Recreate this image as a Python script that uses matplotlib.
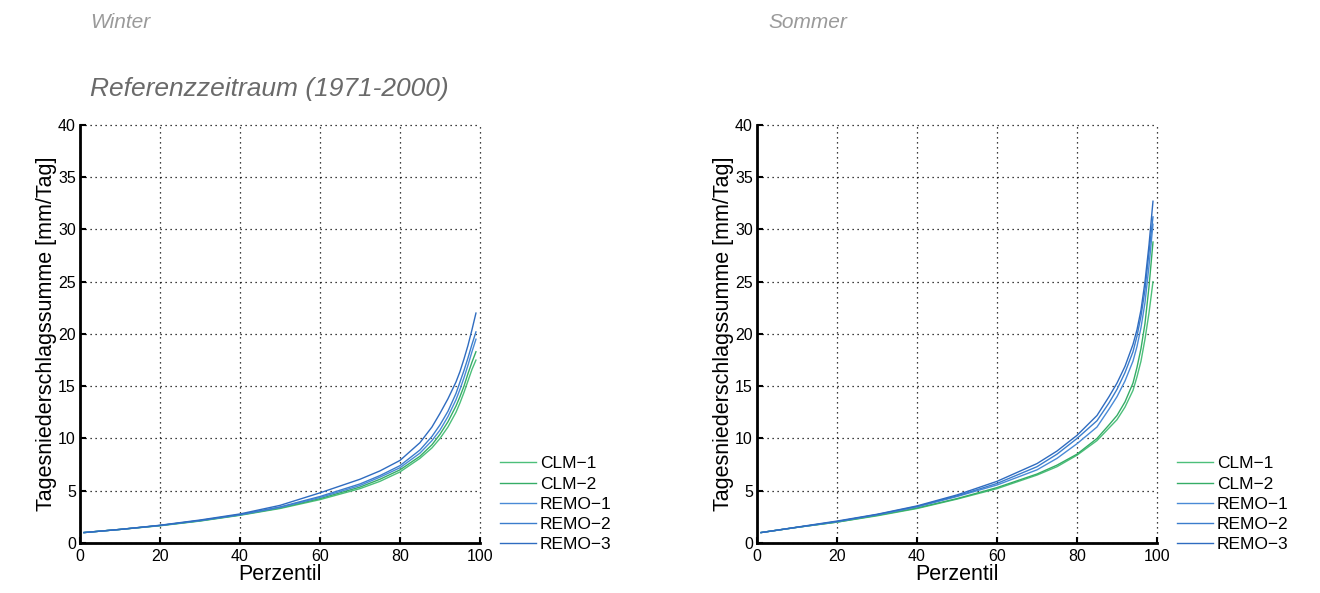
import numpy as np
import matplotlib
matplotlib.use("Agg")
import matplotlib.pyplot as plt

plt.rcParams["font.family"] = ["Liberation Sans", "DejaVu Sans"]

perc = [1, 10, 20, 30, 40, 50, 60, 70, 75, 80, 85, 88, 90, 92, 94, 95, 96, 97, 98, 99]

series_names = ["CLM\u22121", "CLM\u22122", "REMO\u22121", "REMO\u22122", "REMO\u22123"]
series_colors = ["#4cbf7a", "#35ad66", "#4a8ad6", "#3b7dcc", "#2f6cc0"]

winter = {
    "CLM-1":  [1.0, 1.3, 1.65, 2.1, 2.65, 3.3, 4.15, 5.2, 5.9, 6.8, 8.1, 9.1, 10.0, 11.1, 12.5, 13.4, 14.4, 15.5, 16.6, 17.5],
    "CLM-2":  [1.0, 1.3, 1.67, 2.12, 2.68, 3.35, 4.25, 5.35, 6.1, 7.0, 8.3, 9.4, 10.4, 11.6, 13.1, 14.0, 15.0, 16.2, 17.3, 18.3],
    "REMO-1": [1.0, 1.3, 1.68, 2.15, 2.7, 3.4, 4.35, 5.5, 6.3, 7.2, 8.6, 9.8, 10.8, 12.1, 13.7, 14.7, 15.8, 17.0, 18.3, 19.5],
    "REMO-2": [1.0, 1.3, 1.68, 2.15, 2.72, 3.45, 4.45, 5.65, 6.45, 7.4, 8.9, 10.2, 11.3, 12.6, 14.3, 15.4, 16.5, 17.7, 19.0, 20.2],
    "REMO-3": [1.0, 1.3, 1.7, 2.2, 2.78, 3.6, 4.8, 6.1, 6.9, 7.9, 9.6, 11.1, 12.4, 13.8, 15.4, 16.4, 17.6, 18.9, 20.4, 22.0],
}
summer = {
    "CLM-1":  [1.0, 1.5, 2.0, 2.6, 3.3, 4.2, 5.2, 6.5, 7.3, 8.4, 9.8, 11.0, 11.8, 13.0, 14.6, 15.9, 17.4, 19.5, 22.0, 25.0],
    "CLM-2":  [1.0, 1.5, 2.0, 2.65, 3.35, 4.25, 5.3, 6.6, 7.45, 8.5, 10.0, 11.3, 12.2, 13.5, 15.3, 16.8, 18.6, 21.0, 24.5, 28.8],
    "REMO-1": [1.0, 1.5, 2.05, 2.7, 3.45, 4.45, 5.55, 7.0, 8.1, 9.5, 11.1, 12.8, 14.0, 15.5, 17.4, 18.8, 20.6, 23.0, 26.5, 30.5],
    "REMO-2": [1.0, 1.5, 2.05, 2.72, 3.5, 4.5, 5.7, 7.3, 8.5, 10.0, 11.7, 13.4, 14.7, 16.3, 18.3, 19.8, 21.7, 24.2, 27.8, 31.2],
    "REMO-3": [1.0, 1.52, 2.1, 2.75, 3.55, 4.6, 5.9, 7.6, 8.8, 10.3, 12.2, 14.0, 15.3, 16.9, 19.0, 20.4, 22.3, 25.0, 28.5, 32.7],
}

x_ticks = [0, 20, 40, 60, 80, 100]
y_ticks = [0, 5, 10, 15, 20, 25, 30, 35, 40]


def panel(ax, data):
    for (key, vals), name, col in zip(data.items(), series_names, series_colors):
        ax.plot(perc, vals, color=col, lw=1.0, label=name)
    ax.set_xlim(0, 100); ax.set_ylim(0, 40)
    ax.set_xticks(x_ticks); ax.set_yticks(y_ticks)
    ax.grid(True, ls=(0, (1, 3)), color="black", lw=0.9)
    for gl in ax.get_xgridlines() + ax.get_ygridlines():
        gl.set_clip_on(False)
    for s in ("top", "right"):
        ax.spines[s].set_visible(False)
    for s in ("left", "bottom"):
        ax.spines[s].set_linewidth(2.0)
    ax.tick_params(direction="in", length=4, width=1.5, labelsize=11.5)
    ax.tick_params(axis="x", pad=4)
    ax.tick_params(axis="y", pad=3)
    ax.set_xlabel("Perzentil", fontsize=15.5, labelpad=0)
    ax.set_ylabel("Tagesniederschlagssumme [mm/Tag]", fontsize=15.5, labelpad=1)
    ax.legend(loc="lower left", bbox_to_anchor=(1.05, -0.022), frameon=False,
              fontsize=12.5, handlelength=2.1, handletextpad=0.2,
              labelspacing=0.29, borderpad=0, borderaxespad=0)


fig = plt.figure(figsize=(13.2, 5.93), dpi=100)
ax1 = fig.add_axes([0.0606, 0.0843, 0.303, 0.705])
ax2 = fig.add_axes([0.5735, 0.0843, 0.303, 0.705])
panel(ax1, winter)
panel(ax2, summer)

fig.text(90 / 1320, 1 - 22 / 593, "Winter", fontsize=15, style="italic",
         color="#9a9a9a", va="center")
fig.text(768 / 1320, 1 - 22 / 593, "Sommer", fontsize=15, style="italic",
         color="#9a9a9a", va="center")
fig.text(90 / 1320, 1 - 89 / 593, "Referenzzeitraum (1971-2000)", fontsize=19,
         style="italic", color="#6a6a6a", va="center")

fig.savefig("out.png", dpi=100)
